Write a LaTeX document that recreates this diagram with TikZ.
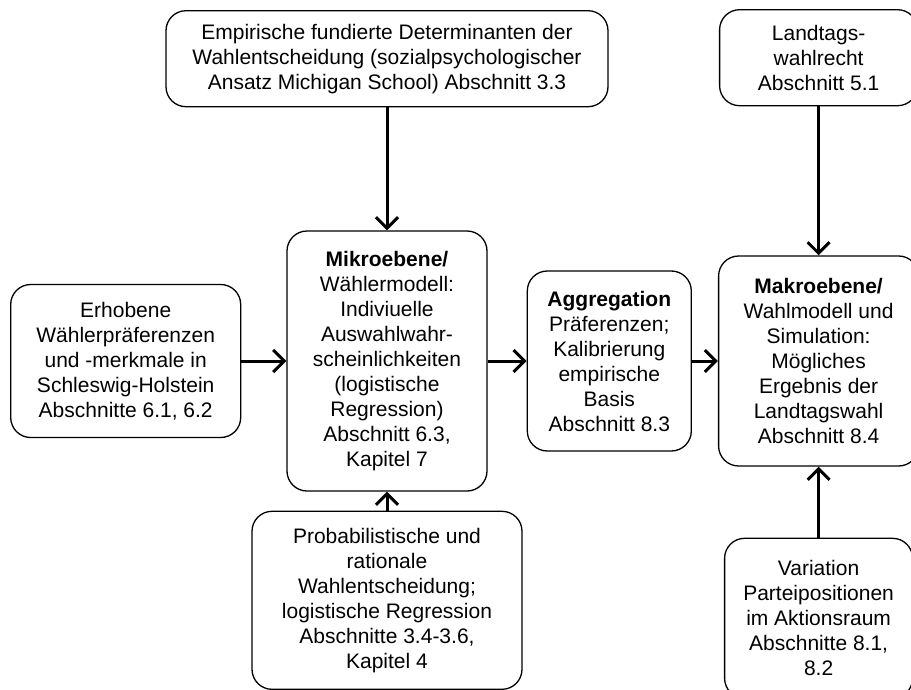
\documentclass[tikz,border=0pt]{standalone}
\usepackage{fontspec}
\setmainfont{Liberation Sans}
\usetikzlibrary{positioning,arrows.meta}

\begin{document}
\begin{tikzpicture}[x=1pt, y=-1pt, node distance=40pt,
    main/.style={rectangle, rounded corners=20pt, draw, line width=1.3pt, align=center, inner sep=0pt, font=\fontsize{21}{25}\selectfont},
    ar/.style={line width=3pt, -{Straight Barb[length=11pt,width=22pt]}}]
      \useasboundingbox (0,0) rectangle (911,689);
      \clip (0,0) rectangle (911,689);
      \node[main, minimum width=200pt, minimum height=260pt] (mikro) at (387,361) {\textbf{Mikroebene/}\\Wählermodell:\\Indiviuelle\\Auswahlwahr-\\scheinlichkeiten\\(logistische\\Regression)\\Abschnitt 6.3,\\Kapitel 7};
      \node[main, minimum width=230pt, minimum height=153pt] (erh) [left=45pt of mikro] {Erhobene\\Wählerpräferenzen\\und -merkmale in\\Schleswig-Holstein\\Abschnitte 6.1, 6.2};
      \node[main, minimum width=442pt, minimum height=96pt] (emp) [above=123pt of mikro] {Empirische fundierte Determinanten der\\Wahlentscheidung (sozialpsychologischer\\Ansatz Michigan School) Abschnitt 3.3};
      \node[main, minimum width=270pt, minimum height=178pt] (prob) [below=19pt of mikro] {Probabilistische und\\rationale\\Wahlentscheidung;\\logistische Regression\\Abschnitte 3.4-3.6,\\Kapitel 4};
      \node[main, minimum width=164pt, minimum height=180pt] (agg) [right=39pt of mikro] {\textbf{Aggregation}\\Präferenzen;\\Kalibrierung\\empirische\\Basis\\Abschnitt 8.3};
      \node[main, minimum width=200pt, minimum height=210pt] (makro) [right=26pt of agg] {\textbf{Makroebene/}\\Wahlmodell und\\Simulation:\\Mögliches\\Ergebnis der\\Landtagswahl\\Abschnitt 8.4};
      \node[main, minimum width=198pt, minimum height=96pt] (land) [above=149pt of makro] {Landtags-\\wahlrecht\\Abschnitt 5.1};
      \node[main, minimum width=188pt, minimum height=160pt] (var) [below=71pt of makro] {Variation\\Parteipositionen\\im Aktionsraum\\Abschnitte 8.1,\\8.2};

      \draw[ar] (emp) -- (mikro);
      \draw[ar] (erh) -- (mikro);
      \draw[ar] (prob) -- (mikro);
      \draw[ar] (mikro) -- (agg);
      \draw[ar] (agg) -- (makro);
      \draw[ar] (land) -- (makro);
      \draw[ar] (var) -- (makro);
    \end{tikzpicture}
\end{document}
